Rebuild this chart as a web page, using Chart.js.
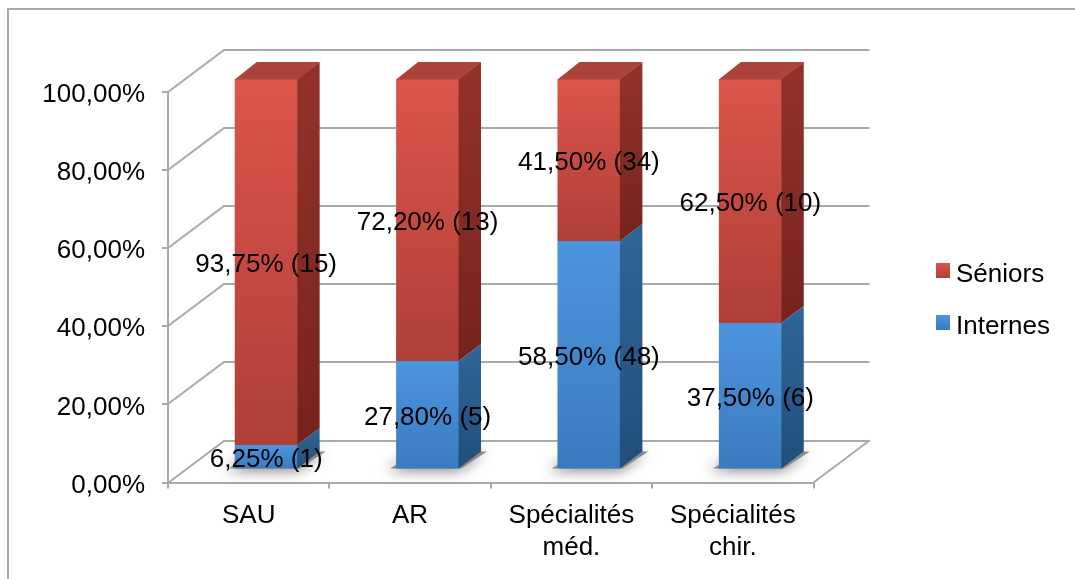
<!DOCTYPE html>
<html>
<head>
<meta charset="utf-8">
<script src="https://cdn.jsdelivr.net/npm/chart.js@4.4.0/dist/chart.umd.min.js"></script>
<style>
html,body{margin:0;padding:0;background:#fff;overflow:hidden}
canvas{display:block}
</style>
</head>
<body>
<canvas id="c" width="1075" height="579"></canvas>
<script>
// ---------- data ----------
const categories = ['SAU', 'AR', ['Spécialités', 'méd.'], ['Spécialités', 'chir.']];
const seriesNames = ['Internes', 'Séniors'];
const internesPct = [6.25, 27.80, 58.50, 37.50];
const seniorsPct = [93.75, 72.20, 41.50, 62.50];
const internesN = [1, 5, 48, 6];
const seniorsN = [15, 13, 34, 10];
const yTickStep = 20;

// ---------- style ----------
const FONT = "'Liberation Sans', Arial, Helvetica, sans-serif";
const GRID = '#A9A9A9';
const WALL = { dx: 56, dy: -42 };      // depth of the 3D box
const BAR_OFF = { dx: 17.5, dy: -13 };  // bar front face position inside the depth
const BAR_D = { dx: 22, dy: -17 };      // bar depth
const TEXT_DY = 3;                      // baseline shift of texts
const COLORS = [
  { front: ['#4C95DF', '#3A7BBF'], side: ['#2F6598', '#224F7C'], top: '#3A74AE', flat: '#4287CF' },
  { front: ['#DC554B', '#AF3F37'], side: ['#93322B', '#76231D'], top: '#AA4339', flat: '#C94A41' }
];
const counts = [internesN, seniorsN];

function fmtPct(v) { return v.toFixed(2).replace('.', ',') + '%'; }

function segRange(chart, di, i) {
  let lo = 0;
  for (let k = 0; k < di; k++) lo += chart.data.datasets[k].data[i];
  return [lo, lo + chart.data.datasets[di].data[i]];
}

function frontFill(c) {
  const chart = c.chart;
  const col = COLORS[c.datasetIndex];
  const y = chart.scales && chart.scales.y;
  if (!y || c.type !== 'data' || !chart.chartArea) return col.flat;
  const [lo, hi] = segRange(chart, c.datasetIndex, c.dataIndex);
  const yt = y.getPixelForValue(hi), yb = y.getPixelForValue(lo);
  if (!isFinite(yt) || !isFinite(yb) || yt === yb) return col.flat;
  const g = chart.ctx.createLinearGradient(0, yt, 0, yb);
  g.addColorStop(0, col.front[0]);
  g.addColorStop(1, col.front[1]);
  return g;
}

const threeD = {
  id: 'threeD',
  beforeDraw(chart) {
    const ctx = chart.ctx;
    ctx.save();
    ctx.strokeStyle = '#A8A8A8';
    ctx.lineWidth = 2;
    ctx.beginPath();
    ctx.moveTo(8, 579);
    ctx.lineTo(8, 9);
    ctx.lineTo(1075, 9);
    ctx.stroke();
    ctx.restore();
  },
  beforeDatasetsDraw(chart) {
    const { ctx, chartArea: ca, scales: { y } } = chart;
    ctx.save();
    ctx.strokeStyle = GRID;
    ctx.lineWidth = 2;
    y.ticks.forEach(t => {
      const py = Math.round(y.getPixelForValue(t.value));
      ctx.beginPath();
      ctx.moveTo(ca.left, py);
      ctx.lineTo(ca.left + WALL.dx, py + WALL.dy);
      ctx.lineTo(ca.right + WALL.dx, py + WALL.dy);
      ctx.stroke();
    });
    const p0 = y.getPixelForValue(0);
    ctx.beginPath();
    ctx.moveTo(ca.right, p0);
    ctx.lineTo(ca.right + WALL.dx, p0 + WALL.dy);
    ctx.stroke();
    ctx.restore();

    // translated drawing for bars
    ctx.save();
    ctx.translate(BAR_OFF.dx, BAR_OFF.dy);
    // floor shadows
    const meta = chart.getDatasetMeta(0);
    meta.data.forEach(bar => {
      const { x, base, width } = bar.getProps(['x', 'base', 'width'], true);
      const xl = x - width / 2, xr = x + width / 2;
      ctx.save();
      ctx.shadowColor = 'rgba(0,0,0,0.5)';
      ctx.shadowBlur = 14;
      ctx.shadowOffsetX = -3;
      ctx.shadowOffsetY = 2;
      ctx.fillStyle = '#8a8a8a';
      ctx.beginPath();
      ctx.moveTo(xl - 6, base);
      ctx.lineTo(xr + 2, base);
      ctx.lineTo(xr + BAR_D.dx + 6, base + BAR_D.dy);
      ctx.lineTo(xl + BAR_D.dx, base + BAR_D.dy);
      ctx.closePath();
      ctx.fill();
      ctx.restore();
    });
  },
  afterDatasetsDraw(chart) {
    const ctx = chart.ctx;
    const n = chart.data.datasets.length;
    for (let di = 0; di < n; di++) {
      const meta = chart.getDatasetMeta(di);
      const col = COLORS[di];
      meta.data.forEach(bar => {
        const { x, y, base, width } = bar.getProps(['x', 'y', 'base', 'width'], true);
        const xl = x - width / 2, xr = x + width / 2;
        // side face
        const g = ctx.createLinearGradient(0, y + BAR_D.dy, 0, base);
        g.addColorStop(0, col.side[0]);
        g.addColorStop(1, col.side[1]);
        ctx.fillStyle = g;
        ctx.beginPath();
        ctx.moveTo(xr - 0.5, y);
        ctx.lineTo(xr + BAR_D.dx, y + BAR_D.dy);
        ctx.lineTo(xr + BAR_D.dx, base + BAR_D.dy);
        ctx.lineTo(xr - 0.5, base);
        ctx.closePath();
        ctx.fill();
        if (di === n - 1) {
          ctx.fillStyle = col.top;
          ctx.beginPath();
          ctx.moveTo(xl, y + 0.5);
          ctx.lineTo(xl + BAR_D.dx, y + BAR_D.dy);
          ctx.lineTo(xr + BAR_D.dx, y + BAR_D.dy);
          ctx.lineTo(xr, y + 0.5);
          ctx.closePath();
          ctx.fill();
        }
      });
    }
    ctx.restore(); // end translation

    // data labels
    ctx.save();
    ctx.font = '26px ' + FONT;
    ctx.fillStyle = '#000';
    ctx.textAlign = 'center';
    ctx.textBaseline = 'middle';
    for (let di = 0; di < n; di++) {
      const meta = chart.getDatasetMeta(di);
      const vals = chart.data.datasets[di].data;
      meta.data.forEach((bar, i) => {
        const { x, y, base } = bar.getProps(['x', 'y', 'base'], true);
        const txt = fmtPct(vals[i]) + ' (' + counts[di][i] + ')';
        ctx.fillText(txt, x + BAR_OFF.dx, (y + base) / 2 + BAR_OFF.dy + TEXT_DY);
      });
    }
    ctx.restore();
  },
  afterDraw(chart) {
    // legend (reverse order, like the stacked original)
    const ctx = chart.ctx;
    ctx.save();
    ctx.font = '26px ' + FONT;
    ctx.textAlign = 'left';
    ctx.textBaseline = 'middle';
    const n = chart.data.datasets.length;
    const x0 = 936, yStart = 271, gap = 52;
    for (let k = 0; k < n; k++) {
      const di = n - 1 - k;
      const yc = yStart + k * gap;
      const col = COLORS[di];
      const g = ctx.createLinearGradient(0, yc - 8, 0, yc + 7);
      g.addColorStop(0, col.front[0]);
      g.addColorStop(1, col.front[1]);
      ctx.fillStyle = g;
      ctx.fillRect(x0, yc - 8, 14, 15);
      ctx.fillStyle = '#000';
      ctx.fillText(chart.data.datasets[di].label, 956, yc + 4);
    }
    ctx.restore();
  }
};

new Chart(document.getElementById('c'), {
  type: 'bar',
  data: {
    labels: categories,
    datasets: [
      { label: seriesNames[0], data: internesPct, backgroundColor: frontFill, borderWidth: 0 },
      { label: seriesNames[1], data: seniorsPct, backgroundColor: frontFill, borderWidth: 0 }
    ]
  },
  options: {
    responsive: false,
    animation: false,
    events: [],
    layout: { padding: { left: 0, top: 92, right: 261.5, bottom: 0 } },
    datasets: { bar: { categoryPercentage: 1, barPercentage: 0.39, clip: false } },
    plugins: { legend: { display: false }, tooltip: { enabled: false } },
    scales: {
      x: {
        stacked: true,
        grid: { display: true, drawOnChartArea: false, offset: true, tickLength: 6, color: GRID, lineWidth: 2 },
        border: { display: true, color: GRID, width: 2 },
        ticks: { color: '#000', font: { family: FONT, size: 26, lineHeight: 1.25 }, padding: 11, maxRotation: 0, autoSkip: false },
        afterFit(s) { s.height = 96.5; }
      },
      y: {
        stacked: true,
        min: 0,
        max: 100,
        grid: { display: true, drawOnChartArea: false, tickLength: 6, color: GRID, lineWidth: 2 },
        border: { display: true, color: GRID, width: 2 },
        ticks: { stepSize: yTickStep, color: '#000', font: { family: FONT, size: 26 }, padding: 17, labelOffset: TEXT_DY, callback: v => fmtPct(v) },
        afterFit(s) { s.width = 168; }
      }
    }
  },
  plugins: [threeD]
});
</script>
</body>
</html>
